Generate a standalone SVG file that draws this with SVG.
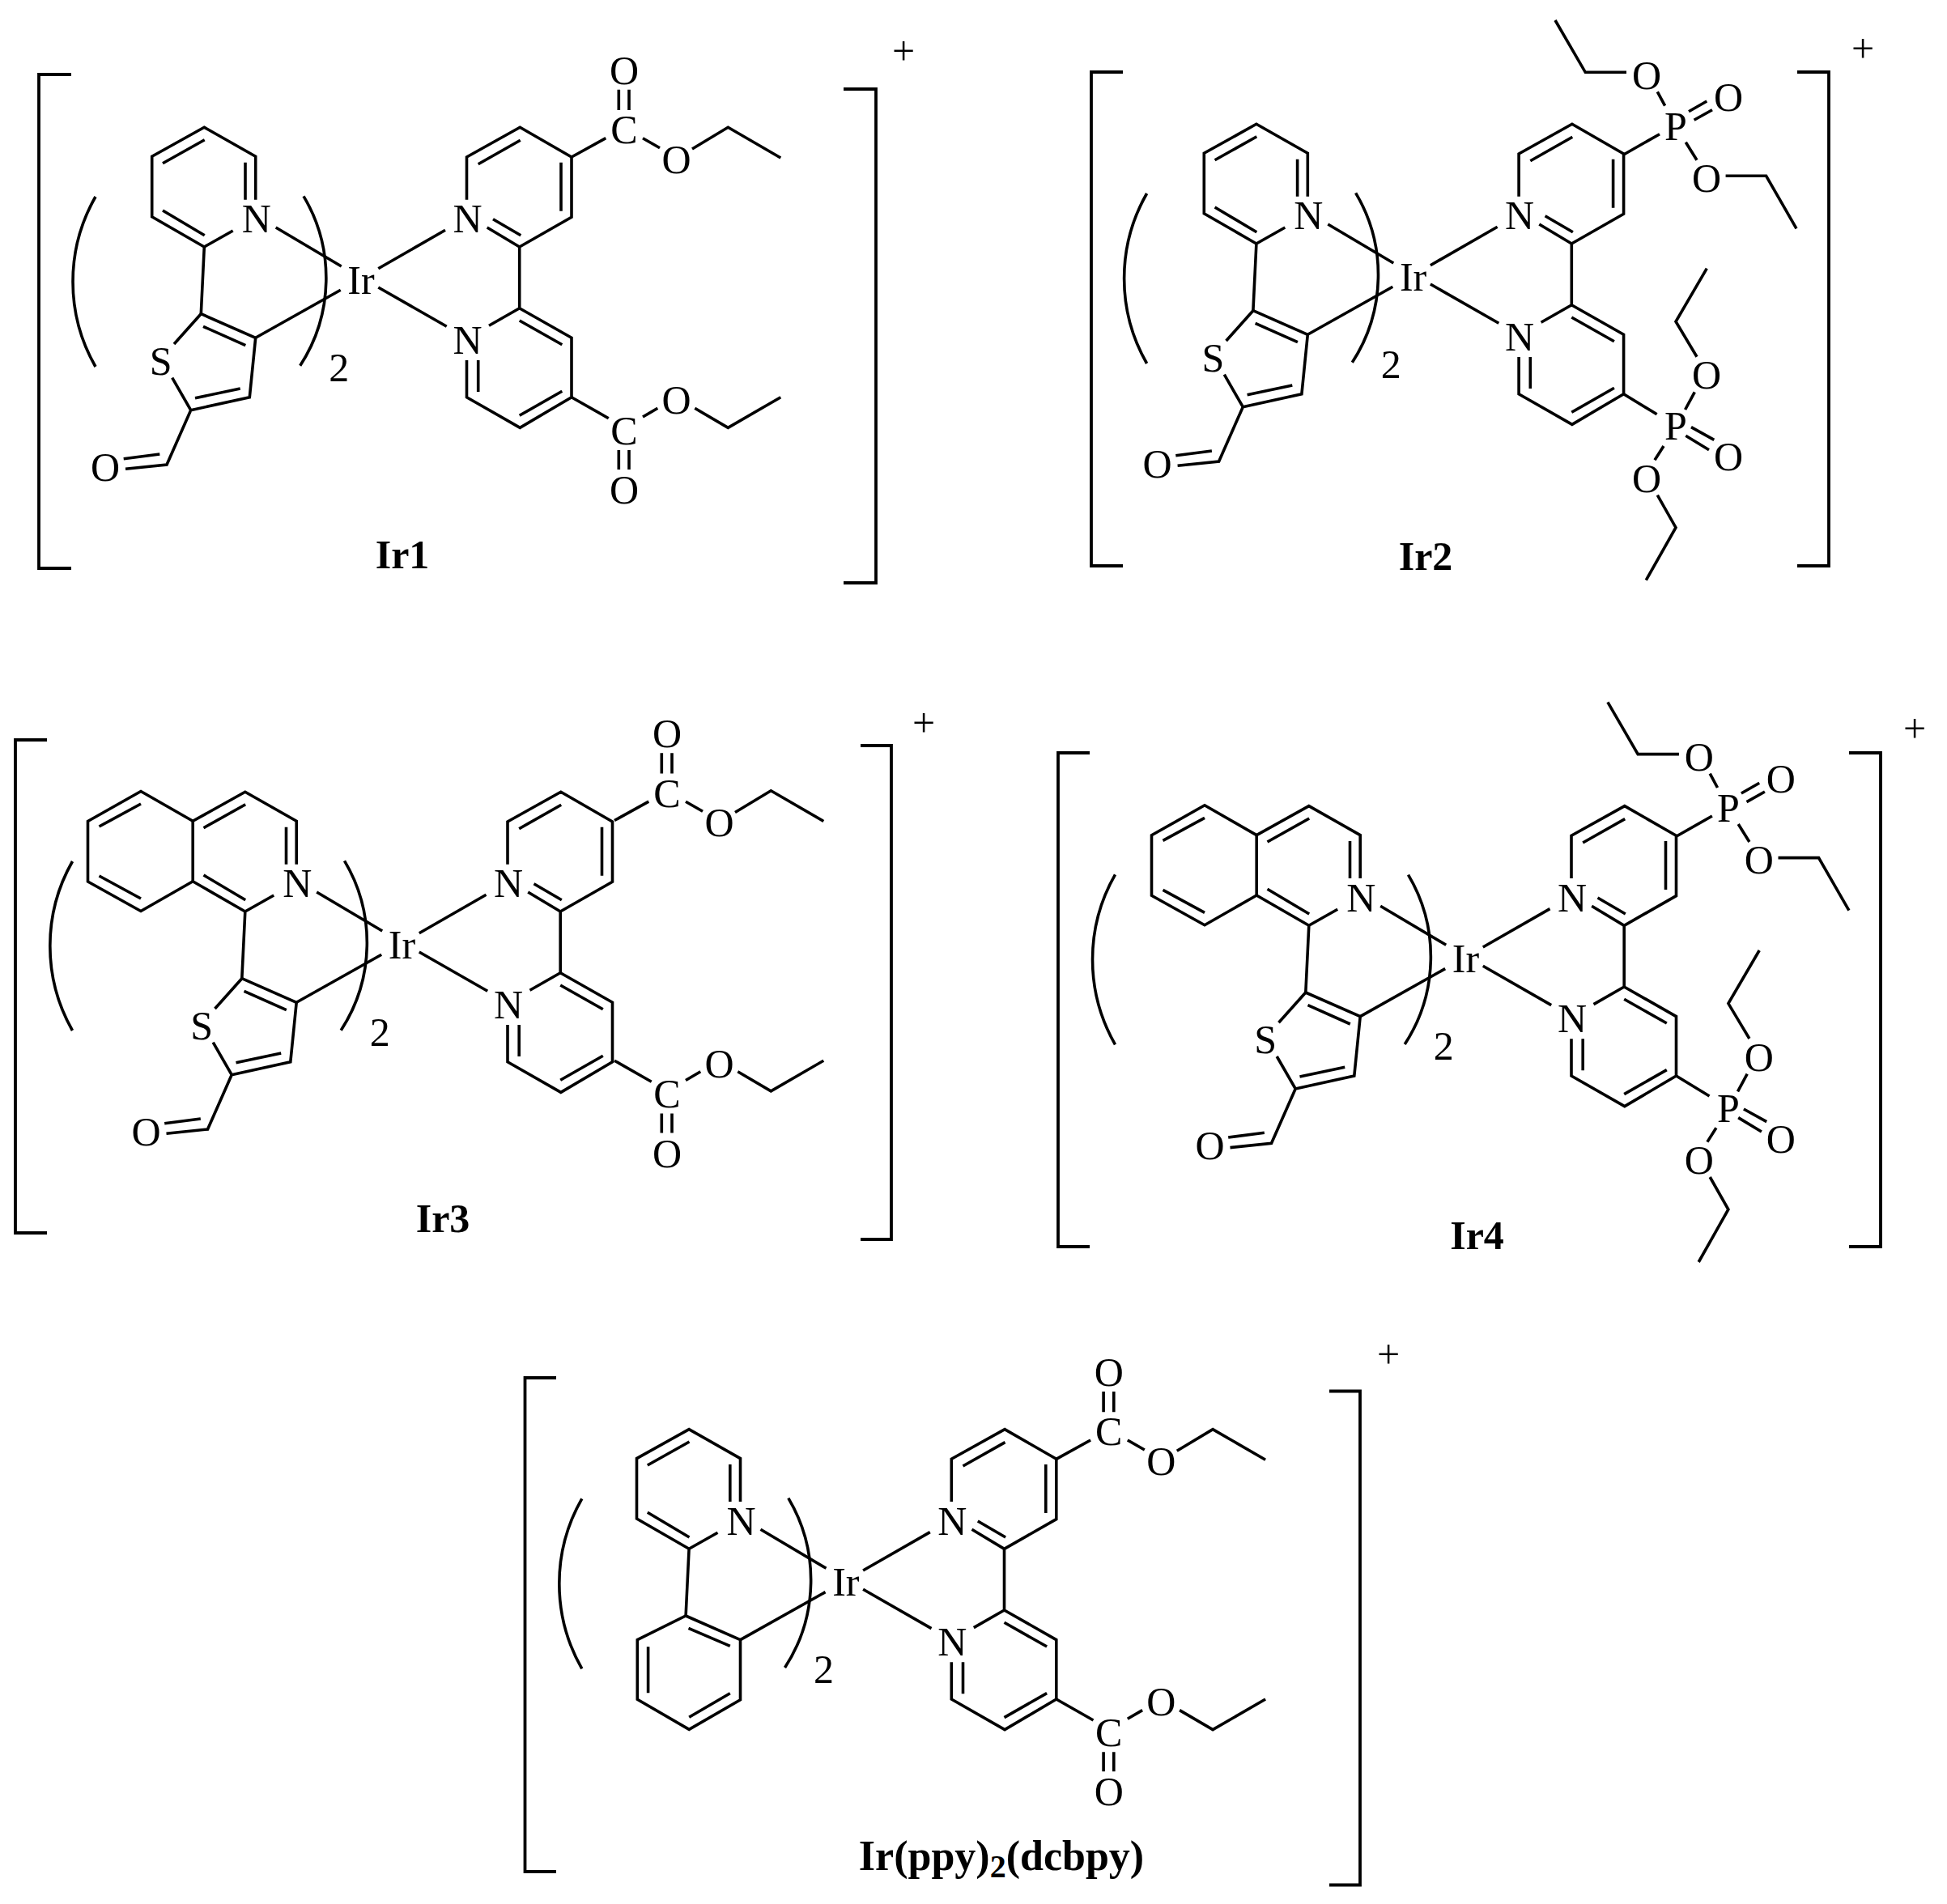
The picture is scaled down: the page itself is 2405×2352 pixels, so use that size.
<svg xmlns="http://www.w3.org/2000/svg" width="2405" height="2352" viewBox="0 0 2405 2352">
<style>
.l{fill:none;stroke:#000;stroke-width:3.6;stroke-linejoin:miter}
.b{fill:none;stroke:#000;stroke-width:3.8;stroke-linejoin:miter}
.a{fill:none;stroke:#000;stroke-width:3.6}
text{font-family:"Liberation Serif","Times New Roman",serif;font-size:50px;fill:#000;text-anchor:middle}
.t{font-weight:bold}
.w{font-size:52px}
.s{font-size:40px}
</style>
<defs>
<path id="bipy" class="l" d="M576.5,246.7V194L642.3,157.3L706,194V268.3L641.7,305L601.7,281M590.7,202.7L642.7,173.3M693,200.7V260.7M609,270.7L643.3,290.7M641.7,305V380.7M604,402.3L641.7,380.7L706,417.3V490.7L642.3,528.3L576.5,490.7V445M590.7,445V484M641.7,396L694.3,425.7M694.3,483.3L641.7,513.3M467.3,331.7L550,284.3M467.3,355L551.7,403.3"/>
<path id="py" class="l" d="M315.7,246.7V193.3L252.3,157.3L187.7,193.3V267.7L252.3,305L287.7,285M303,200.7V246.7M201,201.7L252.7,172.7M201,260L252.7,290.7M340.7,281L421.7,329M252.3,305L248.3,387.7M315.7,417.3L420.7,358.3"/>
<path id="benz" class="l" d="M187.7,193.3L123.5,156.5L58,193.5V268L123.5,304.5L187.7,267.7M72,200L123.5,172M72,261L123.5,289"/>
<path id="thio" class="l" d="M215,425L248.3,387.7L315.7,417.3L308.3,490.7L235.7,506.7L212.7,466.7M251,403.3L303.3,426.7M241,491.7L296.7,480M235.7,506.7L206,574L155,579.3M152.7,566.7L197.3,561"/>
<path id="ph" class="l" d="M248.3,387.7L315.7,417.3V491.5L252.4,528L188.5,491V417.3ZM251.7,403L303,425M201.8,426V483M303,483.5L252.4,513"/>
<path id="est" class="l" d="M706,194L748.3,170.7M764.3,110.7V136M777,110.7V136M794,170.7L815,182.7M855,184L899.3,157.3L964.3,195M706,490.7L751.7,516.7M764.3,556V580M777,556V580M794,515L812.3,504.3M858.3,504.3L899.3,528.3L964.3,490.7"/>
<path id="phos" class="l" d="M706.4,194.7L750.4,169.7M747.7,117.3L757,134.7M786.4,141.7L808.7,129M793,152.3L815.4,139.7M782.7,179.7L796.4,201.7M709.4,93.3H658.7L621.4,29M832,221.3H882L919.4,286.3M706.4,491L747,515.7M782,510L793.7,488.3M796.4,444.7L770.4,401.3L808.7,335.7M789.4,531.7L817.7,547.3M782.7,542.3L811.4,559.7M755.4,555L744.4,572.3M747.7,615.7L770.4,655.7L733.7,720.7"/>
<path id="rp" class="a" d="M375,242.3A198,198 0 0 1 370.7,451.7"/>
</defs>

<g id="Ir1">
<path class="b" d="M88,92H48V702H88M1042,110H1082V720H1042"/>
<text x="1116" y="80">+</text>
<text class="t" x="497" y="702">Ir1</text>
<use href="#py"/><use href="#thio"/><use href="#bipy"/><use href="#est"/><use href="#rp"/>
<path class="a" d="M118,243A211,211 0 0 0 118,453"/>
<text x="446" y="362.7">Ir</text><text x="418.7" y="470.7">2</text>
<text x="316.7" y="287.3">N</text><text x="577.5" y="287.3">N</text><text x="577.5" y="436.7">N</text>
<text x="198.7" y="462.7">S</text><text x="130" y="593.7">O</text>
<text x="771" y="177">C</text><text x="771" y="103.7">O</text><text x="835.5" y="213.7">O</text>
<text x="771" y="548.5">C</text><text x="771" y="622">O</text><text x="835.5" y="511">O</text>
</g>

<g id="Ir2">
<path class="b" d="M1387,89H1348V699H1387M2220,89H2259V699H2220"/>
<text x="2301" y="76.5">+</text>
<text class="t" x="1761" y="704">Ir2</text>
<g transform="translate(1299.6,-4)">
<use href="#py"/><use href="#thio"/><use href="#bipy"/><use href="#phos"/><use href="#rp"/>
<path class="a" d="M117,243A211,211 0 0 0 117,453"/>
<text x="446" y="362.7">Ir</text><text x="418.7" y="470.7">2</text>
<text x="316.7" y="287.3">N</text><text x="577.5" y="287.3">N</text><text x="577.5" y="436.7">N</text>
<text x="198.7" y="462.7">S</text><text x="130" y="593.7">O</text>
<text x="770.4" y="176.7">P</text><text x="734.4" y="114">O</text><text x="835.4" y="141">O</text><text x="808.4" y="241">O</text>
<text x="770.4" y="547.3">P</text><text x="808.4" y="484.3">O</text><text x="835.4" y="585.3">O</text><text x="734.4" y="612">O</text>
</g>
</g>

<g id="Ir3">
<path class="b" d="M58,914H19V1523H58M1063,921H1101V1531H1063"/>
<text x="1141" y="909.5">+</text>
<text class="t" x="547" y="1522">Ir3</text>
<g transform="translate(50.5,821)">
<use href="#py"/><use href="#benz"/><use href="#thio"/><use href="#bipy"/><use href="#rp"/>
<path class="a" d="M39,243A211,211 0 0 0 39,452"/>
<text x="446" y="362.7">Ir</text><text x="418.7" y="470.7">2</text>
<text x="316.7" y="287.3">N</text><text x="577.5" y="287.3">N</text><text x="577.5" y="436.7">N</text>
<text x="198.7" y="462.7">S</text><text x="130" y="593.7">O</text>
</g>
<g transform="translate(53,819.5)">
<use href="#est"/>
<text x="771" y="177">C</text><text x="771" y="103.7">O</text><text x="835.5" y="213.7">O</text>
<text x="771" y="548.5">C</text><text x="771" y="622">O</text><text x="835.5" y="511">O</text>
</g>
</g>

<g id="Ir4">
<path class="b" d="M1346,930H1307V1540H1346M2284,930H2323V1540H2284"/>
<text x="2365" y="917">+</text>
<text class="t" x="1824.5" y="1543">Ir4</text>
<g transform="translate(1364.5,838.3)">
<use href="#py"/><use href="#benz"/><use href="#thio"/><use href="#bipy"/><use href="#phos"/><use href="#rp"/>
<path class="a" d="M13,242A211,211 0 0 0 13,452"/>
<text x="446" y="362.7">Ir</text><text x="418.7" y="470.7">2</text>
<text x="316.7" y="287.3">N</text><text x="577.5" y="287.3">N</text><text x="577.5" y="436.7">N</text>
<text x="198.7" y="462.7">S</text><text x="130" y="593.7">O</text>
<text x="770.4" y="176.7">P</text><text x="734.4" y="114">O</text><text x="835.4" y="141">O</text><text x="808.4" y="241">O</text>
<text x="770.4" y="547.3">P</text><text x="808.4" y="484.3">O</text><text x="835.4" y="585.3">O</text><text x="734.4" y="612">O</text>
</g>
</g>

<g id="Irppy">
<path class="b" d="M687,1702H648.5V2312H687M1642,1718.5H1680V2328.5H1642"/>
<text x="1715" y="1690">+</text>
<text class="t w" x="1237" y="2310">Ir(ppy)<tspan class="s" dy="9">2</tspan><tspan dy="-9">(dcbpy)</tspan></text>
<g transform="translate(598.8,1608.3)">
<use href="#py"/><use href="#ph"/><use href="#bipy"/><use href="#est"/><use href="#rp"/>
<path class="a" d="M120,243A211,211 0 0 0 120,453"/>
<text x="446" y="362.7">Ir</text><text x="418.7" y="470.7">2</text>
<text x="316.7" y="287.3">N</text><text x="577.5" y="287.3">N</text><text x="577.5" y="436.7">N</text>
<text x="771" y="177">C</text><text x="771" y="103.7">O</text><text x="835.5" y="213.7">O</text>
<text x="771" y="548.5">C</text><text x="771" y="622">O</text><text x="835.5" y="511">O</text>
</g>
</g>
</svg>
